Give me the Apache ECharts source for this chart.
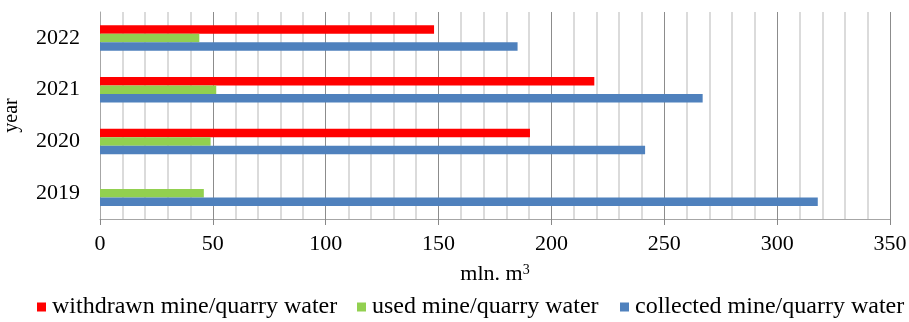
<!DOCTYPE html>
<html>
<head>
<meta charset="utf-8">
<script src="https://cdn.jsdelivr.net/npm/echarts@6/dist/echarts.min.js"></script>
<style>
html,body{margin:0;padding:0;background:#fff;}
#chart{width:909px;height:322px;}
</style>
</head>
<body>
<div id="chart"></div>
<script>
// Mine/quarry water volumes, mln. m3
var years = ['2019', '2020', '2021', '2022'];
var collected = [318, 241.5, 267, 185];
var used = [46, 49, 51.5, 44];
var withdrawn = [null, 190.5, 219, 148];
var xTicks = [0, 50, 100, 150, 200, 250, 300, 350];
var seriesNames = ['withdrawn mine/quarry water', 'used mine/quarry water', 'collected mine/quarry water'];
var seriesColors = ['#FF0000', '#92D050', '#4F81BD'];

var FONT = '"Liberation Serif", "Times New Roman", serif';
var chart = echarts.init(document.getElementById('chart'), null, {renderer: 'canvas'});

function barSeries(name, data, color) {
  return {
    name: name,
    type: 'bar',
    data: data,
    barWidth: 8.5,
    barGap: '0%',
    itemStyle: {color: color},
    animation: false
  };
}

// one legend per series so each entry sits at its own spot along the bottom
var legendLefts = [37, 357, 620];
var legends = seriesNames.map(function (n, i) {
  return {
    data: [n],
    left: legendLefts[i],
    top: 295,
    itemWidth: 9,
    itemHeight: 9,
    itemGap: 0,
    icon: 'rect',
    padding: 0,
    textStyle: {fontFamily: FONT, fontSize: 24, color: '#000', padding: [0, 0, 0, 1]}
  };
});

chart.setOption({
  animation: false,
  textStyle: {fontFamily: FONT},
  grid: {left: 100, right: 19, top: 12, bottom: 103, containLabel: false, outerBoundsMode: 'none'},
  legend: legends,
  xAxis: {
    type: 'value',
    min: xTicks[0],
    max: xTicks[xTicks.length - 1],
    interval: 50,
    name: 'mln. m{sup|3}',
    nameLocation: 'middle',
    nameGap: 44,
    nameTextStyle: {
      fontFamily: FONT, fontSize: 22, color: '#000',
      rich: {sup: {fontFamily: FONT, fontSize: 14, color: '#000', verticalAlign: 'top', padding: [0, 0, 8, 0]}}
    },
    axisLine: {show: true, lineStyle: {color: '#a6a6a6', width: 1}},
    axisTick: {show: true, length: 6, lineStyle: {color: '#888'}},
    axisLabel: {fontFamily: FONT, fontSize: 22, color: '#000', margin: 14},
    splitLine: {show: true, lineStyle: {color: '#8c8c8c', width: 1}},
    minorSplitLine: {show: true, lineStyle: {color: '#d0d0d0', width: 1.5}},
    minorTick: {show: false, splitNumber: 5}
  },
  yAxis: {
    type: 'category',
    data: years,
    name: 'year',
    nameLocation: 'middle',
    nameGap: 78,
    nameRotate: 90,
    nameTextStyle: {fontFamily: FONT, fontSize: 20, color: '#000'},
    axisLine: {show: true, lineStyle: {color: '#a6a6a6', width: 1}},
    axisTick: {show: false},
    axisLabel: {fontFamily: FONT, fontSize: 22, color: '#000', margin: 20}
  },
  series: [
    barSeries(seriesNames[0], withdrawn, seriesColors[0]),
    barSeries(seriesNames[1], used, seriesColors[1]),
    barSeries(seriesNames[2], collected, seriesColors[2])
  ]
});
</script>
</body>
</html>
